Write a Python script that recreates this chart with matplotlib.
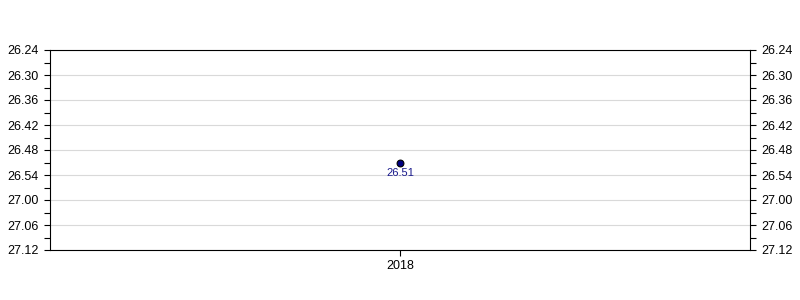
import matplotlib
matplotlib.use("Agg")
import matplotlib.pyplot as plt
from matplotlib.ticker import FuncFormatter, MultipleLocator

plt.rcParams["font.family"] = ["Liberation Sans", "DejaVu Sans"]

# race times as minutes.seconds
years = ["2018"]
times = ["26.51"]
y_min, y_max = "26.24", "27.12"


def to_sec(s: str) -> int:
    m, sec = s.split(".")
    return int(m) * 60 + int(sec)


def fmt(v, _pos=None) -> str:
    v = int(round(v))
    return f"{v // 60}.{v % 60:02d}"


secs = [to_sec(t) for t in times]

fig = plt.figure(figsize=(8, 3), dpi=100)
ax = fig.add_axes([50 / 800, 50 / 300, 700 / 800, 200 / 300])

xs = list(range(len(years)))
ax.scatter(xs, secs, s=24, color="#000080", edgecolor="black", linewidth=0.8, zorder=3)
for x, y, t in zip(xs, secs, times):
    ax.annotate(t, (x, y), xytext=(0, -4), textcoords="offset points",
                ha="center", va="top", fontsize=8, color="#1a1a8c")

ax.set_xlim(-0.5, len(years) - 0.5)
ax.set_xticks(xs)
ax.set_xticklabels(years)
ax.set_ylim(to_sec(y_max), to_sec(y_min))
ax.yaxis.set_major_locator(MultipleLocator(6))
ax.yaxis.set_minor_locator(MultipleLocator(3))
ax.yaxis.set_major_formatter(FuncFormatter(fmt))
ax.grid(axis="y", color="#d9d9d9", linewidth=0.8)
ax.set_axisbelow(True)

ax.tick_params(axis="y", which="both", left=True, right=True, labelleft=True,
               labelright=True, labelsize=9, length=4, width=0.8, pad=4)
ax.tick_params(axis="y", which="minor", length=4)
ax.tick_params(axis="x", labelsize=9, length=4, width=0.8)
for sp in ax.spines.values():
    sp.set_linewidth(0.8)

fig.savefig("out.png", dpi=100)
